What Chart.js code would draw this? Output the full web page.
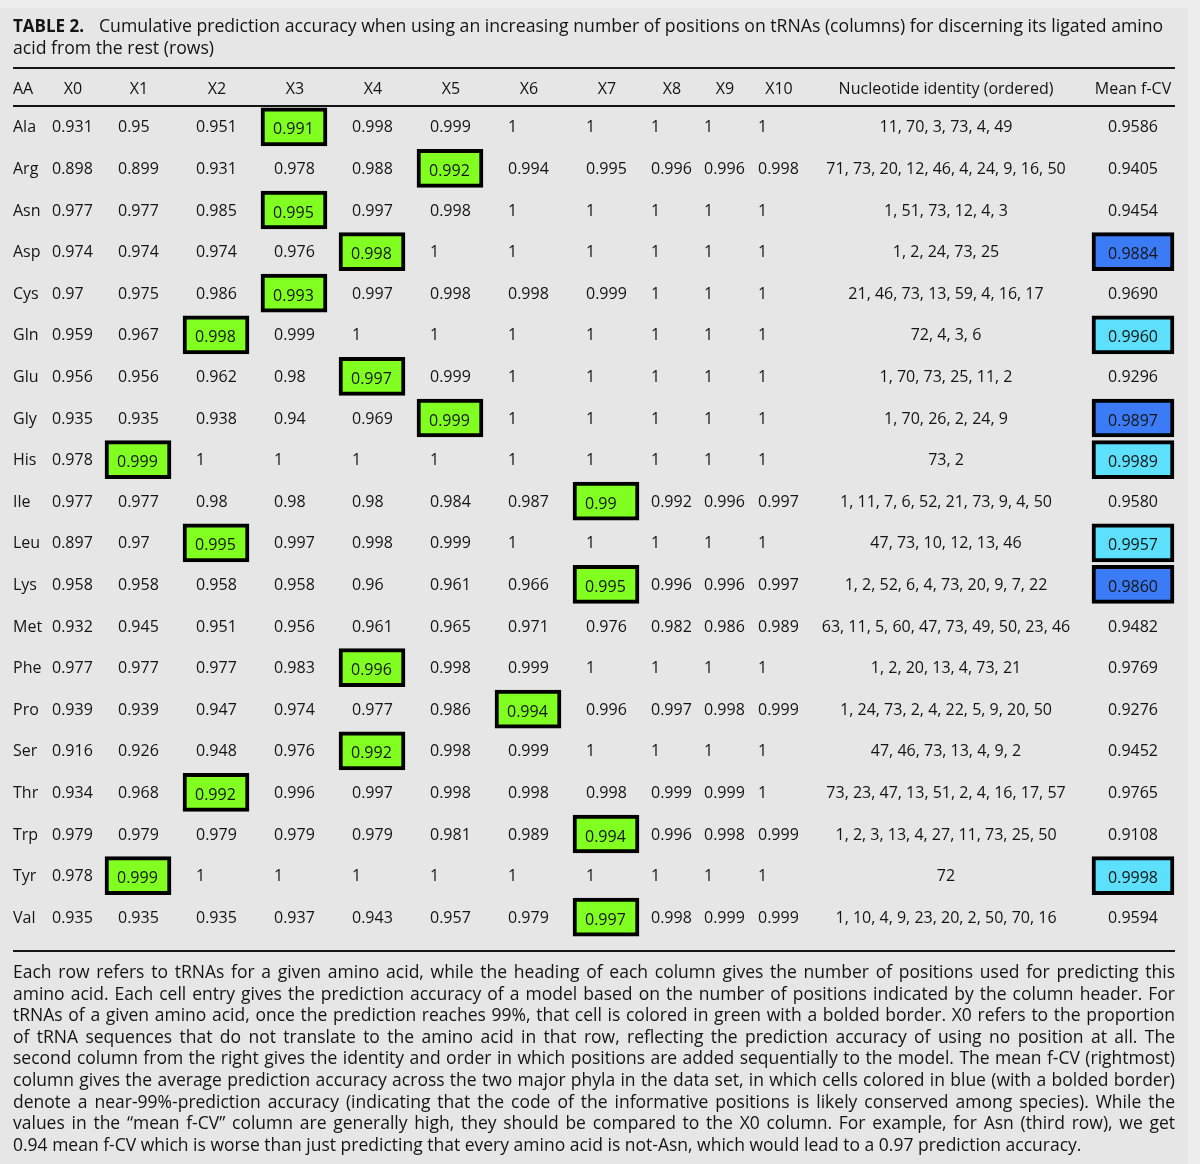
<!DOCTYPE html>
<html>
<head>
<meta charset="utf-8">
<script src="https://cdn.jsdelivr.net/npm/chart.js@4.4.0/dist/chart.umd.min.js"></script>
<style>
html,body{margin:0;padding:0;background:#e6e6e6;}
#wrap{width:1200px;height:1164px;position:relative;}
</style>
</head>
<body>
<div id="wrap"><canvas id="c"></canvas></div>
<script>
// ---------------- DATA ----------------
const aminoAcids = ['Ala','Arg','Asn','Asp','Cys','Gln','Glu','Gly','His','Ile','Leu','Lys','Met','Phe','Pro','Ser','Thr','Trp','Tyr','Val'];
const columnLabels = ['X0','X1','X2','X3','X4','X5','X6','X7','X8','X9','X10'];
const accuracyRows = [
  [0.931,0.95,0.951,0.991,0.998,0.999,1,1,1,1,1],
  [0.898,0.899,0.931,0.978,0.988,0.992,0.994,0.995,0.996,0.996,0.998],
  [0.977,0.977,0.985,0.995,0.997,0.998,1,1,1,1,1],
  [0.974,0.974,0.974,0.976,0.998,1,1,1,1,1,1],
  [0.97,0.975,0.986,0.993,0.997,0.998,0.998,0.999,1,1,1],
  [0.959,0.967,0.998,0.999,1,1,1,1,1,1,1],
  [0.956,0.956,0.962,0.98,0.997,0.999,1,1,1,1,1],
  [0.935,0.935,0.938,0.94,0.969,0.999,1,1,1,1,1],
  [0.978,0.999,1,1,1,1,1,1,1,1,1],
  [0.977,0.977,0.98,0.98,0.98,0.984,0.987,0.99,0.992,0.996,0.997],
  [0.897,0.97,0.995,0.997,0.998,0.999,1,1,1,1,1],
  [0.958,0.958,0.958,0.958,0.96,0.961,0.966,0.995,0.996,0.996,0.997],
  [0.932,0.945,0.951,0.956,0.961,0.965,0.971,0.976,0.982,0.986,0.989],
  [0.977,0.977,0.977,0.983,0.996,0.998,0.999,1,1,1,1],
  [0.939,0.939,0.947,0.974,0.977,0.986,0.994,0.996,0.997,0.998,0.999],
  [0.916,0.926,0.948,0.976,0.992,0.998,0.999,1,1,1,1],
  [0.934,0.968,0.992,0.996,0.997,0.998,0.998,0.998,0.999,0.999,1],
  [0.979,0.979,0.979,0.979,0.979,0.981,0.989,0.994,0.996,0.998,0.999],
  [0.978,0.999,1,1,1,1,1,1,1,1,1],
  [0.935,0.935,0.935,0.937,0.943,0.957,0.979,0.997,0.998,0.999,0.999]
];
const nucleotideOrder = [
  '11, 70, 3, 73, 4, 49',
  '71, 73, 20, 12, 46, 4, 24, 9, 16, 50',
  '1, 51, 73, 12, 4, 3',
  '1, 2, 24, 73, 25',
  '21, 46, 73, 13, 59, 4, 16, 17',
  '72, 4, 3, 6',
  '1, 70, 73, 25, 11, 2',
  '1, 70, 26, 2, 24, 9',
  '73, 2',
  '1, 11, 7, 6, 52, 21, 73, 9, 4, 50',
  '47, 73, 10, 12, 13, 46',
  '1, 2, 52, 6, 4, 73, 20, 9, 7, 22',
  '63, 11, 5, 60, 47, 73, 49, 50, 23, 46',
  '1, 2, 20, 13, 4, 73, 21',
  '1, 24, 73, 2, 4, 22, 5, 9, 20, 50',
  '47, 46, 73, 13, 4, 9, 2',
  '73, 23, 47, 13, 51, 2, 4, 16, 17, 57',
  '1, 2, 3, 13, 4, 27, 11, 73, 25, 50',
  '72',
  '1, 10, 4, 9, 23, 20, 2, 50, 70, 16'
];
const meanFCV = [0.9586,0.9405,0.9454,0.9884,0.9690,0.9960,0.9296,0.9897,0.9989,0.9580,0.9957,0.9860,0.9482,0.9769,0.9276,0.9452,0.9765,0.9108,0.9998,0.9594];

const headerAA = 'AA';
const headerNuc = 'Nucleotide identity (ordered)';
const headerMean = 'Mean f-CV';
const captionBold = 'TABLE 2.';
const captionLines = [
  'Cumulative prediction accuracy when using an increasing number of positions on tRNAs (columns) for discerning its ligated amino',
  'acid from the rest (rows)'
];
const footnoteLines = [
  'Each row refers to tRNAs for a given amino acid, while the heading of each column gives the number of positions used for predicting this',
  'amino acid. Each cell entry gives the prediction accuracy of a model based on the number of positions indicated by the column header. For',
  'tRNAs of a given amino acid, once the prediction reaches 99%, that cell is colored in green with a bolded border. X0 refers to the proportion',
  'of tRNA sequences that do not translate to the amino acid in that row, reflecting the prediction accuracy of using no position at all. The',
  'second column from the right gives the identity and order in which positions are added sequentially to the model. The mean f-CV (rightmost)',
  'column gives the average prediction accuracy across the two major phyla in the data set, in which cells colored in blue (with a bolded border)',
  'denote a near-99%-prediction accuracy (indicating that the code of the informative positions is likely conserved among species). While the',
  'values in the \u201cmean f-CV\u201d column are generally high, they should be compared to the X0 column. For example, for Asn (third row), we get',
  '0.94 mean f-CV which is worse than just predicting that every amino acid is not-Asn, which would lead to a 0.97 prediction accuracy.'
];

// thresholds stated in the footnote
const GREEN_THRESHOLD = 0.99;
const BLUE_HIGH = 0.995;
const BLUE_NEAR = 0.985;

// ---------------- LAYOUT / STYLE (table column layout in x-scale units) ----------------
const AA_LEFT = 13;
const X_COL_LEFT = [52,118,196,274,352,430,508,586,651,704,758];
const NUC_CENTER = 946;
const MEAN_CENTER = 1133;
const TABLE_LEFT = 13, TABLE_RIGHT = 1175;
const GREEN_BOX_L = 13, GREEN_BOX_R = 53;
const BLUE_BOX_HALF = 41;
const FONT = '"Open Sans", "DejaVu Sans", sans-serif';
const TEXT = '#141414';
const GREEN = '#80ff21';
const BLUE_DARK = '#3b7cf6';
const BLUE_LIGHT = '#5ce0fb';

// derived: first column reaching 99%
const firstGreenIdx = accuracyRows.map(r => r.findIndex(v => v >= GREEN_THRESHOLD));
const greenBars = firstGreenIdx.map(i => i >= 0 ? [X_COL_LEFT[i] - GREEN_BOX_L, X_COL_LEFT[i] + GREEN_BOX_R] : null);
const blueBars = meanFCV.map(v => v >= BLUE_NEAR ? [MEAN_CENTER - BLUE_BOX_HALF, MEAN_CENTER + BLUE_BOX_HALF] : null);
const blueColors = meanFCV.map(v => v >= BLUE_HIGH ? BLUE_LIGHT : BLUE_DARK);

function fmtAcc(v){ return String(v); }
function fmtMean(v){ return v.toFixed(4); }

function drawJustified(ctx, text, x0, x1, yBase, justify){
  const words = text.split(' ');
  if(!justify || words.length < 2){ ctx.fillText(text, x0, yBase); return; }
  const widths = words.map(w => ctx.measureText(w).width);
  const wsum = widths.reduce((a,b)=>a+b,0);
  const gap = (x1 - x0 - wsum) / (words.length - 1);
  let x = x0;
  words.forEach((w,i)=>{ ctx.fillText(w, x, yBase); x += widths[i] + gap; });
}

const tablePlugin = {
  id: 'tableText',
  beforeDraw(chart){
    const {ctx, width, height} = chart;
    ctx.save();
    ctx.fillStyle = '#e6e6e6';
    ctx.fillRect(0,0,width,height);
    ctx.fillStyle = '#ededed';
    ctx.fillRect(0,0,width,8);
    ctx.fillRect(1188,0,width-1188,height);
    ctx.restore();
  },
  afterDatasetsDraw(chart){
    const {ctx, chartArea, scales:{x, y}} = chart;
    ctx.save();
    ctx.fillStyle = TEXT;
    ctx.textBaseline = 'alphabetic';

    // caption
    ctx.textAlign = 'left';
    ctx.font = `bold 17px ${FONT}`;
    ctx.fillText(captionBold, 13, 32);
    let cs = 17;
    ctx.font = `${cs}px ${FONT}`;
    const cw = ctx.measureText(captionLines[0]).width;
    cs = cs * (1164 - 99) / cw;
    ctx.font = `${cs}px ${FONT}`;
    ctx.fillText(captionLines[0], 99, 32);
    ctx.fillText(captionLines[1], 13, 54);

    // rules
    const lx0 = x.getPixelForValue(TABLE_LEFT), lx1 = x.getPixelForValue(TABLE_RIGHT);
    const topRule = chartArea.top - 38, headRule = chartArea.top, botRule = chartArea.bottom + 13;
    [topRule, headRule, botRule].forEach(yy => ctx.fillRect(lx0, yy - 1, lx1 - lx0, 2));

    // header
    ctx.font = `16px ${FONT}`;
    const hy = chartArea.top - 12;
    ctx.textAlign = 'left';
    ctx.fillText(headerAA, x.getPixelForValue(AA_LEFT), hy);
    ctx.textAlign = 'center';
    columnLabels.forEach((lab,i)=>{
      ctx.fillText(lab, x.getPixelForValue(X_COL_LEFT[i] + 21), hy);
    });
    ctx.fillText(headerNuc, x.getPixelForValue(NUC_CENTER), hy);
    ctx.fillText(headerMean, x.getPixelForValue(MEAN_CENTER), hy);

    // body
    aminoAcids.forEach((aa, r)=>{
      const yc = y.getPixelForValue(r);
      const base = yc + 5.5;
      ctx.textAlign = 'left';
      ctx.fillText(aa, x.getPixelForValue(AA_LEFT), base);
      accuracyRows[r].forEach((v,c)=>{
        const boxed = firstGreenIdx[r] === c;
        ctx.fillText(fmtAcc(v), x.getPixelForValue(X_COL_LEFT[c] - (boxed ? 1 : 0)), base + (boxed ? 2 : 0));
      });
      ctx.textAlign = 'center';
      ctx.fillText(nucleotideOrder[r], x.getPixelForValue(NUC_CENTER), base);
      const mb = meanFCV[r] >= BLUE_NEAR;
      ctx.fillText(fmtMean(meanFCV[r]), x.getPixelForValue(MEAN_CENTER), base + (mb ? 2 : 0));
    });

    // footnote (justified)
    ctx.textAlign = 'left';
    let fs = 17.5;
    ctx.font = `${fs}px ${FONT}`;
    const maxW = Math.max(...footnoteLines.slice(0,-1).map(l => ctx.measureText(l).width));
    const avail = lx1 - lx0;
    if (maxW > avail * 0.995) fs = fs * avail * 0.995 / maxW;
    ctx.font = `${fs}px ${FONT}`;
    footnoteLines.forEach((line, i)=>{
      drawJustified(ctx, line, lx0, lx1, botRule + 27 + i * 21.6, i < footnoteLines.length - 1);
    });
    ctx.restore();
  }
};

new Chart(document.getElementById('c'), {
  type: 'bar',
  data: {
    labels: aminoAcids,
    datasets: [
      {
        label: 'Reaches 99%',
        data: greenBars,
        backgroundColor: GREEN,
        borderColor: '#000',
        borderWidth: 4,
        borderSkipped: false,
        barThickness: 38,
        grouped: false
      },
      {
        label: 'Mean f-CV near 99%',
        data: blueBars,
        backgroundColor: blueColors,
        borderColor: '#000',
        borderWidth: 4,
        borderSkipped: false,
        barThickness: 38,
        grouped: false
      }
    ]
  },
  options: {
    indexAxis: 'y',
    responsive: true,
    maintainAspectRatio: false,
    animation: false,
    events: [],
    layout: { padding: { top: 106, bottom: 226, left: 0, right: 0 } },
    plugins: { legend: { display: false }, tooltip: { enabled: false }, title: { display: false } },
    scales: {
      x: { type: 'linear', min: 0, max: 1200, display: false },
      y: { type: 'category', display: false, offset: true }
    }
  },
  plugins: [tablePlugin]
});
</script>
</body>
</html>
